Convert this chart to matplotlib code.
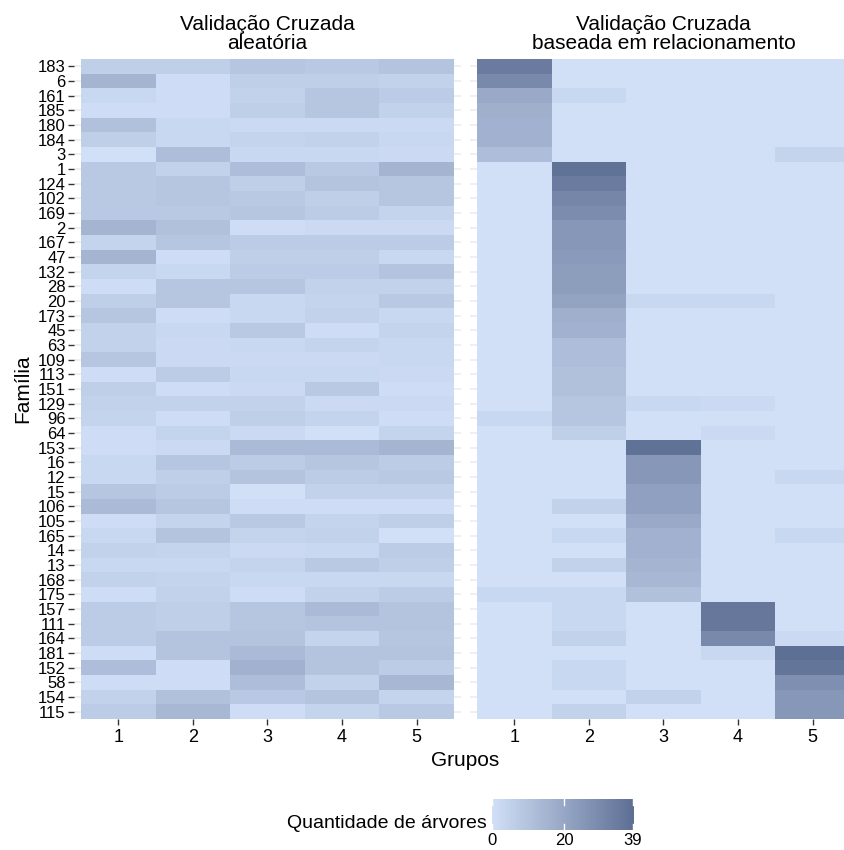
import numpy as np
import matplotlib
matplotlib.use("Agg")
import matplotlib.pyplot as plt
from matplotlib.colors import LinearSegmentedColormap

plt.rcParams['font.family'] = ['Liberation Sans', 'DejaVu Sans']

# famílias (de cima para baixo) e grupos
familias = ['183', '6', '161', '185', '180', '184', '3', '1', '124', '102', '169', '2',
            '167', '47', '132', '28', '20', '173', '45', '63', '109', '113', '151', '129',
            '96', '64', '153', '16', '12', '15', '106', '105', '165', '14', '13', '168',
            '175', '157', '111', '164', '181', '152', '58', '154', '115']
grupos = ['1', '2', '3', '4', '5']

# quantidade de árvores - validação aleatória
aleatoria = [
    [6, 6, 9, 8, 10], [15, 1, 6, 6, 5], [3, 1, 5, 9, 7], [1, 1, 6, 9, 5],
    [11, 3, 2, 2, 2], [6, 3, 4, 5, 3], [0, 12, 3, 3, 2], [8, 5, 12, 8, 15],
    [8, 9, 6, 10, 9], [8, 9, 8, 6, 9], [8, 8, 9, 7, 4], [15, 11, 1, 2, 2],
    [4, 9, 7, 7, 7], [15, 1, 6, 6, 3], [4, 3, 7, 7, 10], [1, 9, 9, 5, 5],
    [6, 9, 3, 4, 8], [9, 1, 3, 5, 3], [5, 3, 8, 1, 4], [5, 2, 3, 4, 3],
    [9, 2, 2, 2, 3], [1, 7, 3, 3, 2], [6, 1, 2, 8, 1], [5, 5, 5, 2, 2],
    [4, 1, 6, 4, 1], [1, 4, 2, 0, 4], [1, 2, 13, 13, 15], [3, 9, 7, 9, 7],
    [3, 6, 10, 7, 8], [9, 7, 0, 5, 5], [13, 9, 1, 1, 1], [1, 4, 8, 4, 6],
    [3, 10, 4, 5, 0], [5, 4, 2, 3, 7], [3, 3, 4, 8, 6], [5, 4, 3, 3, 3],
    [1, 5, 1, 5, 7], [7, 6, 9, 13, 10], [7, 6, 9, 10, 10], [7, 10, 10, 4, 9],
    [1, 10, 13, 10, 10], [12, 1, 16, 10, 7], [1, 1, 12, 5, 14], [5, 11, 8, 10, 4],
    [7, 14, 1, 4, 8],
]

# quantidade de árvores - validação baseada em relacionamento
relacionamento = [
    [35, 0, 0, 0, 0], [30, 0, 0, 0, 0], [19, 3, 0, 0, 0], [17, 0, 0, 0, 0],
    [16, 0, 0, 0, 0], [16, 0, 0, 0, 0], [12, 0, 0, 0, 4], [0, 38, 0, 0, 0],
    [0, 35, 0, 0, 0], [0, 31, 0, 0, 0], [0, 29, 0, 0, 0], [0, 25, 0, 0, 0],
    [0, 25, 0, 0, 0], [0, 24, 0, 0, 0], [0, 23, 0, 0, 0], [0, 23, 0, 0, 0],
    [0, 21, 3, 3, 0], [0, 17, 0, 0, 0], [0, 16, 0, 0, 0], [0, 12, 0, 0, 0],
    [0, 12, 0, 0, 0], [0, 11, 0, 0, 0], [0, 11, 0, 0, 0], [0, 9, 3, 2, 0],
    [3, 9, 0, 0, 0], [0, 6, 0, 2, 0], [0, 0, 38, 0, 0], [0, 0, 25, 0, 0],
    [0, 0, 25, 0, 3], [0, 0, 22, 0, 0], [0, 5, 22, 0, 0], [0, 0, 19, 0, 0],
    [0, 3, 16, 0, 3], [0, 0, 16, 0, 0], [0, 5, 15, 0, 0], [0, 0, 14, 0, 0],
    [3, 3, 11, 0, 0], [0, 3, 0, 36, 0], [0, 3, 0, 36, 0], [0, 5, 0, 30, 2],
    [0, 0, 0, 3, 39], [0, 3, 0, 0, 37], [0, 3, 0, 0, 28], [0, 0, 5, 0, 25],
    [0, 5, 0, 0, 25],
]

cmap = LinearSegmentedColormap.from_list('arv', ['#d1e0f7', '#5e6f95'])
vmax = 39

W, H = 845, 850
fig = plt.figure(figsize=(W / 100, H / 100), dpi=100)


def px_axes(x0, y0, x1, y1):
    return fig.add_axes([x0 / W, 1 - y1 / H, (x1 - x0) / W, (y1 - y0) / H])


pad = 7 / 74.6
n = len(familias)


def painel(ax, dados, titulo, rotulos_y):
    m = np.array(dados)
    ax.set_axisbelow(True)
    ax.grid(True, color='#ebebeb', linewidth=1.1)
    ax.pcolormesh(np.arange(6) + 0.5, np.arange(n + 1) - 0.5, m,
                  cmap=cmap, vmin=0, vmax=vmax, zorder=2)
    ax.set_xlim(0.5 - pad, 5.5 + pad)
    ax.set_ylim(n - 0.5, -0.5)
    ax.set_xticks(np.arange(1, 6))
    ax.set_xticklabels(grupos, fontsize=13)
    ax.set_yticks(np.arange(n))
    if rotulos_y:
        ax.set_yticklabels(familias, fontsize=12)
        ax.tick_params(axis='y', length=4, width=1, color='#333333', pad=2)
    else:
        ax.set_yticklabels([])
        ax.tick_params(axis='y', length=0)
    ax.tick_params(axis='x', length=4, width=1, color='#333333', pad=3)
    for s in ax.spines.values():
        s.set_visible(False)
    ax.set_title(titulo, fontsize=15, pad=7, linespacing=1.0)


ax1 = px_axes(74, 59, 461, 719)
painel(ax1, aleatoria, 'Validação Cruzada\naleatória', True)
ax1.set_ylabel('Família', fontsize=15, labelpad=4)

ax2 = px_axes(470, 59, 857, 719)
painel(ax2, relacionamento, 'Validação Cruzada\nbaseada em relacionamento', False)

fig.text(465 / W, 1 - 761 / H, 'Grupos', fontsize=15, ha='center', va='center')

# barra de cores
cax = px_axes(487, 799, 638, 830)
grad = np.linspace(0, vmax, 256)[None, :]
cax.imshow(grad, extent=[0, vmax, 0, 1], aspect='auto', cmap=cmap, vmin=0, vmax=vmax)
cax.set_xlim(-1.3, vmax + 1.4)
cax.set_ylim(0, 1)
for t in [0, 20, 39]:
    cax.plot([t, t], [0, 0.18], color='white', lw=1)
    cax.plot([t, t], [0.82, 1], color='white', lw=1)
cax.set_xticks([0, 20, 39])
cax.set_xticklabels(['0', '20', '39'], fontsize=12)
cax.tick_params(axis='x', length=0, pad=2)
cax.set_yticks([])
for s in cax.spines.values():
    s.set_visible(False)
fig.text(487 / W, 1 - 823 / H, 'Quantidade de árvores', fontsize=14,
         ha='right', va='center')

fig.savefig('out.png', dpi=100)
